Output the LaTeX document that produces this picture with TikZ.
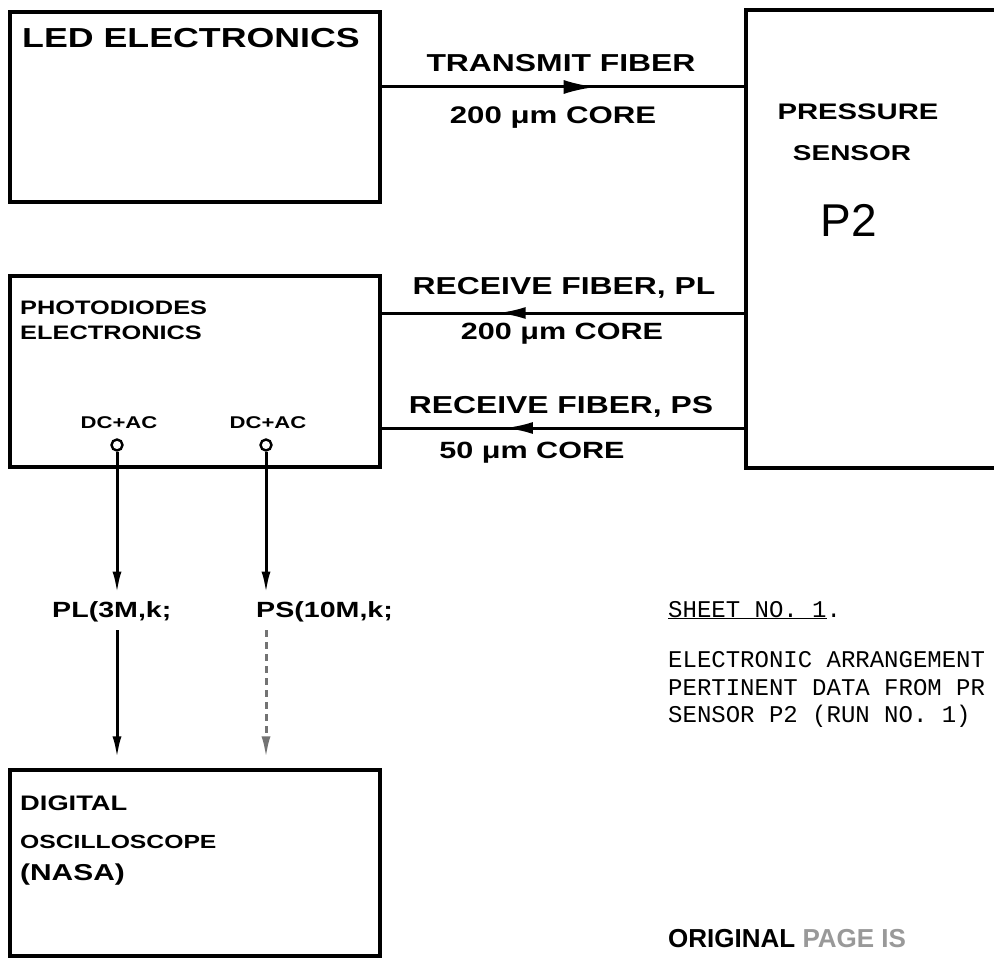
\documentclass[tikz,border=0pt]{standalone}
\usepackage{fontspec}
\newfontfamily\hand{Liberation Sans}[FakeStretch=1.3]
\newfontfamily\plainsf{Liberation Sans}
\newfontfamily\typew{Liberation Mono}
\usetikzlibrary{arrows.meta,decorations.markings}
\newcommand\hsz[1]{\hand\bfseries\fontsize{#1}{#1}\selectfont}
\tikzset{
  box/.style={draw, line width=3.4pt, inner sep=0pt},
  fiber/.style={line width=3pt},
  midarrow/.style={postaction={decorate}, decoration={markings,
      mark=at position #1 with {\arrow{Latex[length=32pt,width=14pt]}}}},
  midarrowsm/.style={postaction={decorate}, decoration={markings,
      mark=at position #1 with {\arrow{Latex[length=28pt,width=12pt]}}}},
  sig/.style={line width=3pt, -{Latex[length=22pt,width=9pt]}},
  lbl/.style={inner sep=0pt},
  term/.style={circle, draw, line width=2.4pt, minimum size=11pt, inner sep=0pt},
  tw/.style={inner sep=0pt, anchor=base west, font=\typew\fontsize{24}{24}\selectfont},
}
\begin{document}
\begin{tikzpicture}[x=1pt,y=-1pt]
\clip (0,0) rectangle (994,958);
\fill[white] (0,0) rectangle (994,958);

% boxes
\node[box, minimum width=370pt, minimum height=190pt] (led) at (195,107) {};
\node[box, minimum width=270pt, minimum height=458pt] (sensor) at (881,239) {};
\node[box, minimum width=370pt, minimum height=191pt] (pd) at (195,371.5) {};
\node[box, minimum width=370pt, minimum height=186pt] (osc) at (195,863) {};

% box texts
\node[lbl, anchor=west, font=\hsz{27.5}] (tled) at (22,38) {LED ELECTRONICS};
\node[lbl, font=\hsz{22.5}] (tpress) at (858,112) {PRESSURE};
\node[lbl, font=\hsz{21.5}] (tsens) at (852,153) {SENSOR};
\node[lbl, font=\plainsf\fontsize{46}{46}\selectfont] (tp2) at (849,220) {P2};
\node[lbl, anchor=west, font=\hsz{19.5}] (tpd1) at (20,308) {PHOTODIODES};
\node[lbl, anchor=west, font=\hsz{19.5}] (tpd2) at (20,333) {ELECTRONICS};
\node[lbl, anchor=west, font=\hsz{21}] (tosc1) at (20,803) {DIGITAL};
\node[lbl, anchor=west, font=\hsz{19}] (tosc2) at (20,842) {OSCILLOSCOPE};
\node[lbl, anchor=west, font=\hsz{23}] (tosc3) at (20,875) {(NASA)};

% fiber labels
\node[lbl, font=\hsz{24.5}] (ltx1) at (561,63) {TRANSMIT FIBER};
\node[lbl, font=\hsz{24}] (ltx2) at (553,118) {200 μm CORE};
\node[lbl, font=\hsz{24.5}] (lpl1) at (564,288) {RECEIVE FIBER, PL};
\node[lbl, font=\hsz{23.5}] (lpl2) at (562,334) {200 μm CORE};
\node[lbl, font=\hsz{24.5}] (lps1) at (561,407) {RECEIVE FIBER, PS};
\node[lbl, font=\hsz{23.5}] (lps2) at (532,453) {50 μm CORE};

% fibers
\draw[fiber, midarrow=0.59] (led.east |- 0,87) -- (sensor.west |- 0,87);
\draw[fiber, midarrowsm=0.68] (sensor.west |- 0,313) -- (pd.east |- 0,313);
\draw[fiber, midarrowsm=0.66] (sensor.west |- 0,428) -- (pd.east |- 0,428);

% terminals
\node[lbl, font=\hsz{17}] (dc1) at (119,423) {DC+AC};
\node[lbl, font=\hsz{17}] (dc2) at (268,423) {DC+AC};
\node[term] (t1) at (117,445) {};
\node[term] (t2) at (266,445) {};

% signal labels
\node[lbl, anchor=west, font=\hsz{22}] (plL) at (52,612) {PL(3M,k;};
\node[lbl, anchor=west, font=\hsz{22}] (psL) at (256,612) {PS(10M,k;};

% signal lines
\draw[sig, shorten >=8pt] (t1.south) -- (t1 |- plL.north);
\draw[sig, shorten <=8pt, shorten >=10pt] (t1 |- plL.south) -- (t1 |- osc.north);
\draw[sig, shorten >=8pt] (t2.south) -- (t2 |- psL.north);
\draw[sig, shorten <=8pt, shorten >=10pt, dash pattern=on 7pt off 5pt, draw=black!55] (t2 |- psL.south) -- (t2 |- osc.north);

% typed notes
\node[tw] (sheet) at (668,617) {\underline{SHEET NO. 1}.};
\node[tw] (d1) at (668,667) {ELECTRONIC ARRANGEMENT};
\node[tw] (d2) at (668,695) {PERTINENT DATA FROM PR};
\node[tw] (d3) at (668,722) {SENSOR P2 (RUN NO. 1)};
\node[lbl, anchor=base west, font=\plainsf\bfseries\fontsize{26}{26}\selectfont] (orig) at (668,947) {ORIGINAL \textcolor{black!40}{PAGE IS}};
\end{tikzpicture}
\end{document}
